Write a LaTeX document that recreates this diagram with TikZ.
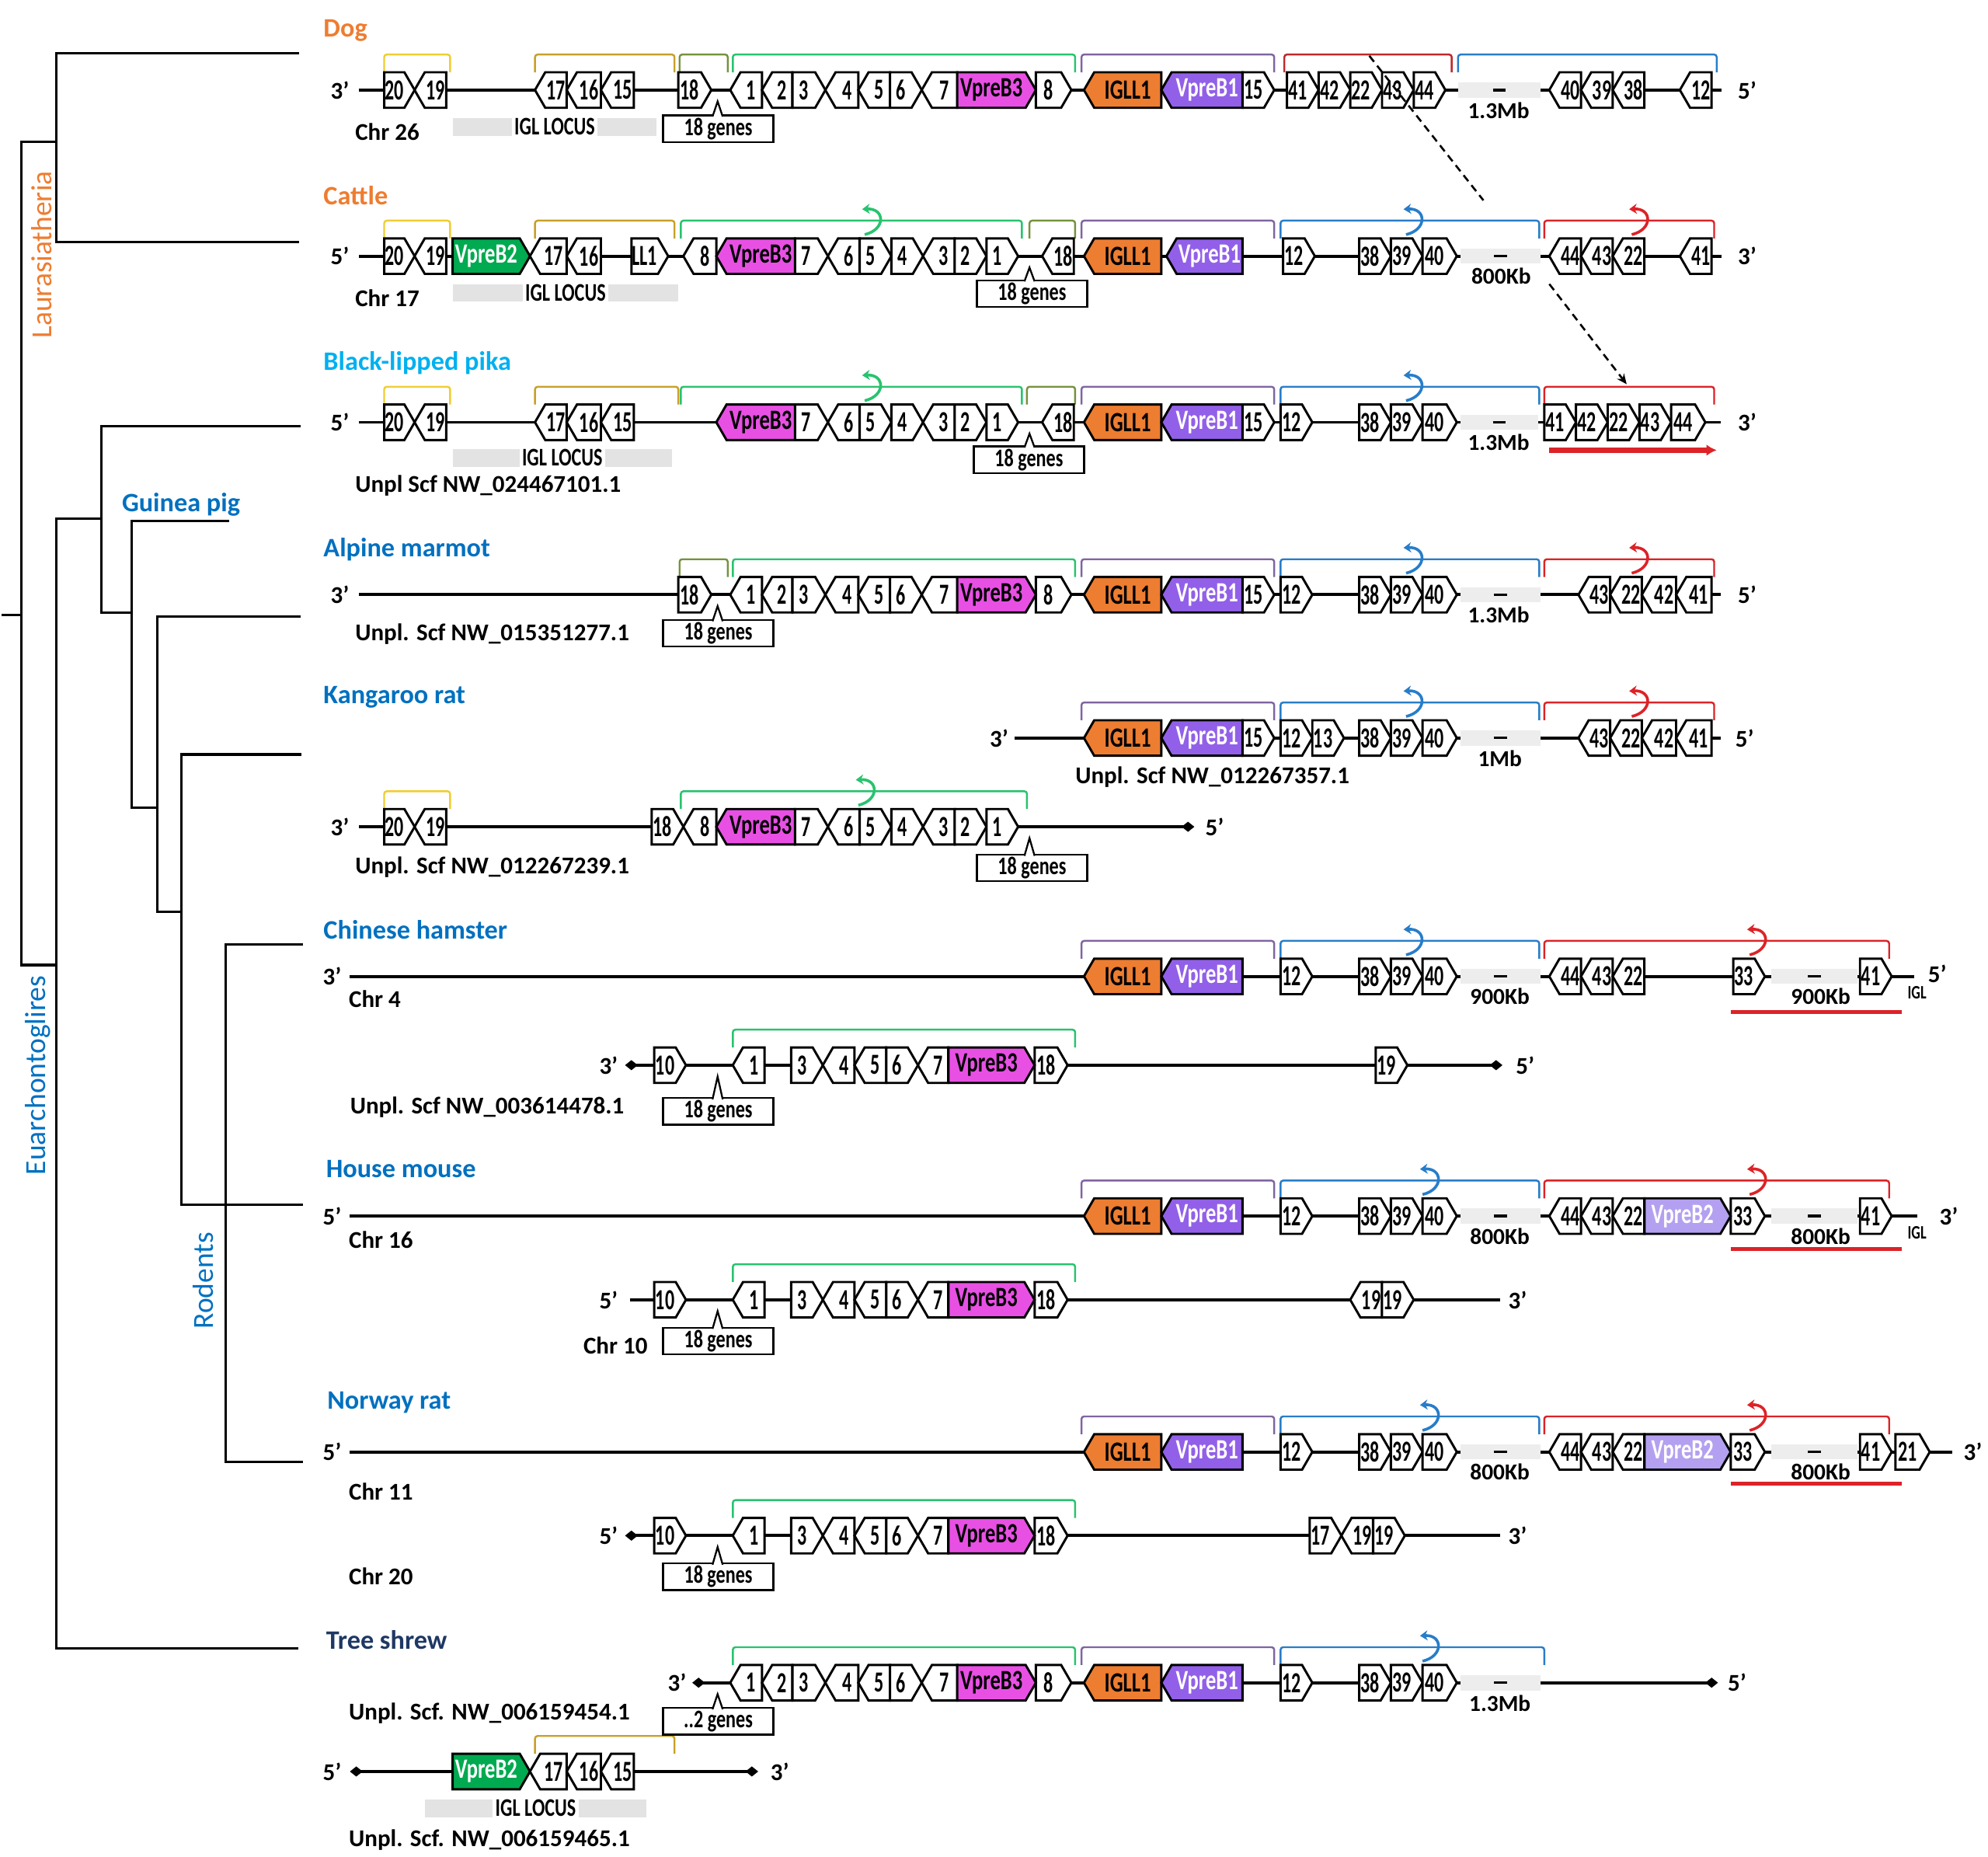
\documentclass[tikz,border=0pt]{standalone}
\usepackage{fontspec}
\setmainfont{Carlito}
\newfontfamily\cfont[FakeStretch=0.74]{Carlito}
\newfontfamily\nfont[FakeStretch=0.64]{Carlito}
\usetikzlibrary{shapes.symbols,arrows.meta}
\definecolor{cYel}{RGB}{240,205,50}
\definecolor{cGold}{RGB}{200,160,40}
\definecolor{cOlive}{RGB}{118,146,60}
\definecolor{cGrn}{RGB}{40,195,110}
\definecolor{cPur}{RGB}{128,100,162}
\definecolor{cRed}{RGB}{220,35,40}
\definecolor{cDRed}{RGB}{190,40,40}
\definecolor{cBlu}{RGB}{40,125,200}
\definecolor{cIGLL}{RGB}{237,125,49}
\definecolor{cVBone}{RGB}{146,96,232}
\definecolor{cVBthree}{RGB}{232,80,228}
\definecolor{cVBtwoG}{RGB}{0,170,80}
\definecolor{cVBtwoP}{RGB}{180,160,240}
\definecolor{cOrg}{RGB}{237,125,49}
\definecolor{cCyan}{RGB}{0,176,240}
\definecolor{cBlue}{RGB}{0,112,192}
\definecolor{cNavy}{RGB}{31,56,100}
\tikzset{
  gene/.style={shape=signal, signal to=#1, signal pointer angle=120, draw=black,
    line width=1.8pt, fill=white, minimum height=28pt, inner sep=0pt, outer sep=0pt,
    font=\nfont\fontsize{23}{23}\selectfont\bfseries},
  big/.style={font=\cfont\fontsize{22}{22}\selectfont\bfseries},
  igll/.style={big, fill=cIGLL},
  vbone/.style={big, fill=cVBone, text=white},
  vbthree/.style={big, fill=cVBthree},
  vbtwog/.style={big, fill=cVBtwoG, text=white},
  vbtwop/.style={big, fill=cVBtwoP, text=white},
  chrom/.style={line width=2.4pt},
  brk/.style={line width=1.5pt, rounded corners=2pt},
  tree/.style={line width=2pt, line cap=rect},
  species/.style={anchor=west, inner sep=0pt, font=\fontsize{21}{21}\selectfont\bfseries},
  chrlab/.style={anchor=west, inner sep=0pt, font=\fontsize{19}{19}\selectfont\bfseries},
  prime/.style={inner sep=0pt, font=\fontsize{19}{19}\selectfont\bfseries},
  glab/.style={inner sep=0pt, font=\fontsize{18}{18}\selectfont\bfseries},
  cbox/.style={draw, line width=1.4pt, fill=white, minimum width=87pt, minimum height=21pt,
    inner sep=0pt, font=\cfont\fontsize{20}{20}\selectfont\bfseries},
  loclab/.style={fill=white, inner sep=2pt, font=\cfont\fontsize{20}{20}\selectfont\bfseries},
  clade/.style={rotate=90, inner sep=0pt, font=\fontsize{23}{23}\selectfont},
}
\newcommand\sg[7]{\ifnum#4>0
  \node[gene=east,#5,minimum width=#3 pt] (#1) at ({#2+#3/2-4},#7) {#6};%
  \else
  \node[gene=west,#5,minimum width=#3 pt] (#1) at ({#2+#3/2+4},#7) {#6};%
  \fi}
\newcommand\genes[3]{\foreach \xa/\w/\d/\t [count=\k] in {#3}{\sg{#1-\k}{\xa}{\w}{\d}{}{\t}{#2}}}
\newcommand\brk[4]{\draw[brk,#1] (#2,#4-14) -- (#2,#4-28) -- (#3,#4-28) -- (#3,#4-14);}
\newcommand\curl[3]{\draw[#1,line width=2.2pt,-{Stealth[length=6pt,width=8pt]}] (#2-3,#3-17) .. controls (#2+14,#3-21) and (#2+13,#3-38) .. (#2-5,#3-37);}
\newcommand\callout[6]{\node[cbox] (#1) at (#2,#3) {#6};
  \filldraw[fill=white,line width=1.4pt] (#4-4,#3-9.6) -- (#4,#5) -- (#4+4,#3-9.6);}
\newcommand\gap[6]{\fill[gray!14] (#2,#4-6) rectangle (#3,#4+6);
  \draw[line width=2pt] ({(#2+#3)/2-5},#4) -- ({(#2+#3)/2+5},#4);
  \node[glab] (#1) at (#6,#4+16) {#5};}
\newcommand\locus[4]{\fill[gray!22] (#2,#4-7) rectangle (#3,#4+7);
  \node[loclab] (#1) at ({(#2+#3)/2},#4) {IGL LOCUS};}
\begin{document}
\begin{tikzpicture}[x=1pt,y=-1pt]
\useasboundingbox (0,0) rectangle (1568,1464);
% ---------------- tree ----------------
\draw[tree] (2,485) -- (17,485);
\draw[tree] (44.5,112) -- (17,112) -- (17,761) -- (44.5,761);
\draw[tree] (235,42) -- (44.5,42) -- (44.5,191) -- (235,191);
\draw[tree] (80,409) -- (44.5,409) -- (44.5,1300) -- (234,1300);
\draw[tree] (236,336) -- (80,336) -- (80,483) -- (104,483);
\draw[tree] (180,411) -- (104,411) -- (104,637) -- (124,637);
\draw[tree] (236,486) -- (124,486) -- (124,719) -- (143,719);
\draw[tree] (237,595) -- (143,595) -- (143,950) -- (238,950);
\draw[tree] (238,745) -- (178,745) -- (178,1153) -- (238,1153);
\node[clade, text=cOrg] (lau) at (33,201) {Laurasiatheria};
\node[clade, text=cBlue] (eua) at (30,848) {Euarchontoglires};
\node[clade, text=cBlue] (rod) at (160,1010) {Rodents};
\node[species, text=cBlue] (gp) at (96,398) {Guinea pig};
% ---------------- DOG ----------------
\node[species, text=cOrg] (dog-n) at (255,24) {Dog};
\node[prime] (dog-l) at (268,71) {3'};
\node[prime] (dog-r) at (1378,71) {5'};
\coordinate (dog-a) at (283,71); \coordinate (dog-b) at (1358,71);
\draw[chrom] (dog-a) -- (dog-b);
\gap{dog-gap}{1150}{1215}{71}{1.3Mb}{1182}
\brk{cYel}{303}{355}{71} \brk{cGold}{422}{532}{71} \brk{cOlive}{536}{574}{71}
\brk{cGrn}{578}{848}{71} \brk{cPur}{853}{1005}{71} \brk{cDRed}{1013}{1145}{71} \brk{cBlu}{1150}{1354}{71}
\genes{dog}{71}{303/24/1/20, 327/25/-1/19, 422/25/-1/17, 447/27/-1/16, 474/26/-1/15, 535/26/1/18,
 576/25/-1/1, 601/24/-1/2, 625/26/1/3, 651/26/-1/4, 677/25/-1/5, 702/25/1/6, 727/28/-1/7, 817/28/1/8,
 980/25/1/15, 1015/25/1/41, 1040/25/1/42, 1065/25/1/22, 1090/25/1/43, 1115/25/1/44,
 1222/25/-1/40, 1247/25/-1/39, 1272/25/-1/38, 1325/25/-1/12}
\sg{dog-vb3}{755}{62}{1}{vbthree}{VpreB3}{71}
\sg{dog-ig}{855}{61}{-1}{igll}{IGLL1}{71}
\sg{dog-vb1}{916}{64}{-1}{vbone}{VpreB1}{71}
\callout{dog-c}{566.5}{101.5}{566}{80}{18 genes}
\locus{dog-igl}{357}{518}{100}
\node[chrlab] (dog-chr) at (280,104) {Chr 26};
% ---------------- CATTLE ----------------
\node[species, text=cOrg] (cat-n) at (255,154) {Cattle};
\node[prime] (cat-l) at (268,202) {5'};
\node[prime] (cat-r) at (1378,202) {3'};
\coordinate (cat-a) at (283,202); \coordinate (cat-b) at (1358,202);
\draw[chrom] (cat-a) -- (cat-b);
\gap{cat-gap}{1152}{1215}{202}{800Kb}{1184}
\brk{cYel}{303}{355}{202} \brk{cGold}{422}{532}{202} \brk{cGrn}{537}{806}{202} \brk{cOlive}{812}{848}{202}
\brk{cPur}{853}{1005}{202} \brk{cBlu}{1010}{1214}{202} \brk{cRed}{1218}{1352}{202}
\curl{cGrn}{685}{202} \curl{cBlu}{1112}{202} \curl{cRed}{1290}{202}
\genes{cat}{202}{303/24/1/20, 327/25/-1/19, 418/29/-1/17, 447/27/-1/16, 498/29/1/LL1, 539/26/-1/8,
 627/26/1/7, 653/25/-1/6, 678/25/1/5, 703/25/1/4, 728/25/-1/3, 753/25/1/2, 778/25/1/1, 822/25/-1/18,
 1012/25/1/12, 1072/25/1/38, 1097/25/1/39, 1122/27/1/40, 1222/25/-1/44, 1247/25/-1/43, 1272/25/-1/22, 1325/25/-1/41}
\sg{cat-vb2}{357}{61}{1}{vbtwog}{VpreB2}{202}
\sg{cat-vb3}{565}{62}{-1}{vbthree}{VpreB3}{202}
\sg{cat-ig}{855}{61}{-1}{igll}{IGLL1}{202}
\sg{cat-vb1}{920}{60}{-1}{vbone}{VpreB1}{202}
\callout{cat-c}{814}{231.5}{812}{211}{18 genes}
\locus{cat-igl}{357}{535}{231}
\node[chrlab] (cat-chr) at (280,235) {Chr 17};
% ---------------- PIKA ----------------
\node[species, text=cCyan] (pik-n) at (255,286) {Black-lipped pika};
\node[prime] (pik-l) at (268,333) {5'};
\node[prime] (pik-r) at (1378,333) {3'};
\coordinate (pik-a) at (283,333); \coordinate (pik-b) at (1357,333);
\draw[chrom] (pik-a) -- (pik-b);
\gap{pik-gap}{1152}{1213}{333}{1.3Mb}{1182}
\brk{cYel}{303}{355}{333} \brk{cGold}{422}{535}{333} \brk{cGrn}{537}{806}{333} \brk{cOlive}{810}{848}{333}
\brk{cPur}{853}{1005}{333} \brk{cBlu}{1010}{1214}{333} \brk{cRed}{1218}{1352}{333}
\curl{cGrn}{685}{333} \curl{cBlu}{1112}{333}
\genes{pik}{333}{303/24/1/20, 327/25/-1/19, 422/25/-1/17, 447/27/-1/16, 474/26/-1/15,
 627/26/1/7, 653/25/-1/6, 678/25/1/5, 703/25/1/4, 728/25/-1/3, 753/25/1/2, 778/25/1/1, 822/25/-1/18,
 980/25/1/15, 1010/25/1/12, 1072/25/1/38, 1097/25/1/39, 1122/27/1/40,
 1218/25/1/41, 1243/25/1/42, 1268/25/1/22, 1293/25/1/43, 1318/27/1/44}
\sg{pik-vb3}{565}{62}{-1}{vbthree}{VpreB3}{333}
\sg{pik-ig}{855}{61}{-1}{igll}{IGLL1}{333}
\sg{pik-vb1}{916}{64}{-1}{vbone}{VpreB1}{333}
\callout{pik-c}{811.5}{362.5}{812}{342}{18 genes}
\locus{pik-igl}{357}{530}{361}
\node[chrlab] (pik-chr) at (280,383) {Unpl Scf NW\_024467101.1};
\coordinate (pik-ra) at (1222,355); \coordinate (pik-rb) at (1354,355);
\draw[cRed, line width=4pt, -{Latex[length=8pt,width=9pt]}] (pik-ra) -- (pik-rb);
% ---------------- MARMOT ----------------
\node[species, text=cBlue] (mar-n) at (255,433) {Alpine marmot};
\node[prime] (mar-l) at (268,469) {3'};
\node[prime] (mar-r) at (1378,469) {5'};
\coordinate (mar-a) at (283,469); \coordinate (mar-b) at (1357,469);
\draw[chrom] (mar-a) -- (mar-b);
\gap{mar-gap}{1152}{1215}{469}{1.3Mb}{1182}
\brk{cOlive}{536}{574}{469} \brk{cGrn}{578}{848}{469} \brk{cPur}{853}{1005}{469}
\brk{cBlu}{1010}{1214}{469} \brk{cRed}{1218}{1352}{469}
\curl{cBlu}{1112}{469} \curl{cRed}{1290}{469}
\genes{mar}{469}{535/26/1/18, 576/25/-1/1, 601/24/-1/2, 625/26/1/3, 651/26/-1/4, 677/25/-1/5, 702/25/1/6,
 727/28/-1/7, 817/28/1/8, 980/25/1/15, 1010/25/1/12, 1072/25/1/38, 1097/25/1/39, 1122/27/1/40,
 1245/25/-1/43, 1270/25/-1/22, 1295/27/-1/42, 1322/28/-1/41}
\sg{mar-vb3}{755}{62}{1}{vbthree}{VpreB3}{469}
\sg{mar-ig}{855}{61}{-1}{igll}{IGLL1}{469}
\sg{mar-vb1}{916}{64}{-1}{vbone}{VpreB1}{469}
\callout{mar-c}{566.5}{499.5}{566}{478}{18 genes}
\node[chrlab] (mar-chr) at (280,500) {Unpl. Scf NW\_015351277.1};
% ---------------- KANGAROO RAT ----------------
\node[species, text=cBlue] (kan-n) at (255,550) {Kangaroo rat};
\node[prime] (kan-l) at (788,582) {3'};
\node[prime] (kan-r) at (1376,582) {5'};
\coordinate (kan-a) at (800,582); \coordinate (kan-b) at (1357,582);
\draw[chrom] (kan-a) -- (kan-b);
\gap{kan-gap}{1152}{1215}{582}{1Mb}{1183}
\brk{cPur}{853}{1005}{582} \brk{cBlu}{1010}{1214}{582} \brk{cRed}{1218}{1352}{582}
\curl{cBlu}{1112}{582} \curl{cRed}{1290}{582}
\genes{kan}{582}{980/25/1/15, 1010/25/1/12, 1035/25/1/13, 1072/25/1/38, 1097/25/1/39, 1122/27/1/40,
 1245/25/-1/43, 1270/25/-1/22, 1295/27/-1/42, 1322/28/-1/41}
\sg{kan-ig}{855}{61}{-1}{igll}{IGLL1}{582}
\sg{kan-vb1}{916}{64}{-1}{vbone}{VpreB1}{582}
\node[chrlab] (kan-chr) at (848,613) {Unpl. Scf NW\_012267357.1};
% row 2
\node[prime] (kbn-l) at (268,652) {3'};
\node[prime] (kbn-r) at (958,652) {5'};
\coordinate (kbn-a) at (283,652); \coordinate (kbn-b) at (942,652);
\draw[chrom, -{Diamond[length=10pt,width=8pt]}] (kbn-a) -- (kbn-b);
\brk{cYel}{303}{355}{652} \brk{cGrn}{537}{810}{652}
\curl{cGrn}{680}{652}
\genes{kbn}{652}{303/24/1/20, 327/25/-1/19, 514/25/1/18, 539/26/-1/8,
 627/26/1/7, 653/25/-1/6, 678/25/1/5, 703/25/1/4, 728/25/-1/3, 753/25/1/2, 778/25/1/1}
\sg{kbn-vb3}{565}{62}{-1}{vbthree}{VpreB3}{652}
\callout{kbn-c}{814}{684.5}{812}{661}{18 genes}
\node[chrlab] (kbn-chr) at (280,684) {Unpl. Scf NW\_012267239.1};
% ---------------- CHINESE HAMSTER ----------------
\node[species, text=cBlue] (ham-n) at (255,733) {Chinese hamster};
\node[prime] (ham-l) at (262,770) {3'};
\node[prime] (ham-r) at (1528,768) {5'};
\node[inner sep=0pt, font=\cfont\fontsize{15}{15}\selectfont\bfseries] (ham-igl) at (1512,783) {IGL};
\coordinate (ham-a) at (276,770); \coordinate (ham-b) at (1510,770);
\draw[chrom] (ham-a) -- (ham-b);
\gap{ham-gap}{1152}{1215}{770}{900Kb}{1183}
\gap{ham-gapb}{1397}{1465}{770}{900Kb}{1436}
\brk{cPur}{853}{1005}{770} \brk{cBlu}{1010}{1214}{770} \brk{cRed}{1218}{1490}{770}
\curl{cBlu}{1112}{770} \curl{cRed}{1383}{770}
\genes{ham}{770}{1010/25/1/12, 1072/25/1/38, 1097/25/1/39, 1122/27/1/40, 1222/25/-1/44, 1247/25/-1/43,
 1272/25/-1/22, 1367/25/1/33, 1467/25/1/41}
\sg{ham-ig}{855}{61}{-1}{igll}{IGLL1}{770}
\sg{ham-vb1}{916}{64}{-1}{vbone}{VpreB1}{770}
\coordinate (ham-ua) at (1365,798); \coordinate (ham-ub) at (1500,798);
\draw[cRed, line width=3pt] (ham-ua) -- (ham-ub);
\node[chrlab] (ham-chr) at (275,788) {Chr 4};
% row 2
\node[prime] (hbm-l) at (480,840) {3'};
\node[prime] (hbm-r) at (1203,840) {5'};
\coordinate (hbm-a) at (493,840); \coordinate (hbm-b) at (1185,840);
\draw[chrom, {Diamond[length=10pt,width=8pt]}-{Diamond[length=10pt,width=8pt]}] (hbm-a) -- (hbm-b);
\brk{cGrn}{578}{848}{840}
\genes{hbm}{840}{516/25/1/10, 578/25/-1/1, 624/25/1/3, 649/25/-1/4, 674/25/-1/5, 699/25/1/6,
 724/24/-1/7, 816/26/1/18, 1085/25/1/19}
\sg{hbm-vb3}{748}{68}{1}{vbthree}{VpreB3}{840}
\callout{hbm-c}{566.5}{876.5}{566}{849}{18 genes}
\node[chrlab] (hbm-chr) at (276,873) {Unpl. Scf NW\_003614478.1};
% ---------------- HOUSE MOUSE ----------------
\node[species, text=cBlue] (mou-n) at (257,922) {House mouse};
\node[prime] (mou-l) at (262,959) {5'};
\node[prime] (mou-r) at (1537,959) {3'};
\node[inner sep=0pt, font=\cfont\fontsize{15}{15}\selectfont\bfseries] (mou-igl) at (1512,972) {IGL};
\coordinate (mou-a) at (276,959); \coordinate (mou-b) at (1512,959);
\draw[chrom] (mou-a) -- (mou-b);
\gap{mou-gap}{1152}{1215}{959}{800Kb}{1183}
\gap{mou-gapb}{1397}{1465}{959}{800Kb}{1436}
\brk{cPur}{853}{1005}{959} \brk{cBlu}{1010}{1214}{959} \brk{cRed}{1218}{1490}{959}
\curl{cBlu}{1125}{959} \curl{cRed}{1383}{959}
\genes{mou}{959}{1010/25/1/12, 1072/25/1/38, 1097/25/1/39, 1122/27/1/40, 1222/25/-1/44, 1247/25/-1/43,
 1272/25/-1/22, 1365/27/1/33, 1467/25/1/41}
\sg{mou-ig}{855}{61}{-1}{igll}{IGLL1}{959}
\sg{mou-vb1}{916}{64}{-1}{vbone}{VpreB1}{959}
\sg{mou-vb2}{1297}{68}{1}{vbtwop}{VpreB2}{959}
\coordinate (mou-ua) at (1365,985); \coordinate (mou-ub) at (1500,985);
\draw[cRed, line width=3pt] (mou-ua) -- (mou-ub);
\node[chrlab] (mou-chr) at (275,978) {Chr 16};
% row 2
\node[prime] (mbu-l) at (480,1025) {5'};
\node[prime] (mbu-r) at (1197,1025) {3'};
\coordinate (mbu-a) at (497,1025); \coordinate (mbu-b) at (1183,1025);
\draw[chrom] (mbu-a) -- (mbu-b);
\brk{cGrn}{578}{848}{1025}
\genes{mbu}{1025}{516/25/1/10, 578/25/-1/1, 624/25/1/3, 649/25/-1/4, 674/25/-1/5, 699/25/1/6,
 724/24/-1/7, 816/26/1/18, 1065/25/-1/19, 1090/25/1/19}
\sg{mbu-vb3}{748}{68}{1}{vbthree}{VpreB3}{1025}
\callout{mbu-c}{566.5}{1057.5}{566}{1034}{18 genes}
\node[chrlab] (mbu-chr) at (460,1061) {Chr 10};
% ---------------- NORWAY RAT ----------------
\node[species, text=cBlue] (rat-n) at (258,1106) {Norway rat};
\node[prime] (rat-l) at (262,1145) {5'};
\node[prime] (rat-r) at (1556,1145) {3'};
\coordinate (rat-a) at (276,1145); \coordinate (rat-b) at (1540,1145);
\draw[chrom] (rat-a) -- (rat-b);
\gap{rat-gap}{1152}{1215}{1145}{800Kb}{1183}
\gap{rat-gapb}{1397}{1465}{1145}{800Kb}{1436}
\brk{cPur}{853}{1005}{1145} \brk{cBlu}{1010}{1214}{1145} \brk{cRed}{1218}{1490}{1145}
\curl{cBlu}{1125}{1145} \curl{cRed}{1383}{1145}
\genes{rat}{1145}{1010/25/1/12, 1072/25/1/38, 1097/25/1/39, 1122/27/1/40, 1222/25/-1/44, 1247/25/-1/43,
 1272/25/-1/22, 1365/27/1/33, 1467/25/1/41, 1495/27/1/21}
\sg{rat-ig}{855}{61}{-1}{igll}{IGLL1}{1145}
\sg{rat-vb1}{916}{64}{-1}{vbone}{VpreB1}{1145}
\sg{rat-vb2}{1297}{68}{1}{vbtwop}{VpreB2}{1145}
\coordinate (rat-ua) at (1365,1170); \coordinate (rat-ub) at (1500,1170);
\draw[cRed, line width=3pt] (rat-ua) -- (rat-ub);
\node[chrlab] (rat-chr) at (275,1176) {Chr 11};
% row 2
\node[prime] (rbt-l) at (480,1211) {5'};
\node[prime] (rbt-r) at (1197,1211) {3'};
\coordinate (rbt-a) at (493,1211); \coordinate (rbt-b) at (1183,1211);
\draw[chrom, {Diamond[length=10pt,width=8pt]}-] (rbt-a) -- (rbt-b);
\brk{cGrn}{578}{848}{1211}
\genes{rbt}{1211}{516/25/1/10, 578/25/-1/1, 624/25/1/3, 649/25/-1/4, 674/25/-1/5, 699/25/1/6,
 724/24/-1/7, 816/26/1/18, 1033/25/1/17, 1058/25/-1/19, 1083/25/1/19}
\sg{rbt-vb3}{748}{68}{1}{vbthree}{VpreB3}{1211}
\callout{rbt-c}{566.5}{1243.5}{566}{1220}{18 genes}
\node[chrlab] (rbt-chr) at (275,1243) {Chr 20};
% ---------------- TREE SHREW ----------------
\node[species, text=cNavy] (tre-n) at (257,1293) {Tree shrew};
\node[prime] (tre-l) at (534,1327) {3'};
\node[prime] (tre-r) at (1370,1327) {5'};
\coordinate (tre-a) at (546,1327); \coordinate (tre-b) at (1355,1327);
\draw[chrom, {Diamond[length=10pt,width=8pt]}-{Diamond[length=10pt,width=8pt]}] (tre-a) -- (tre-b);
\gap{tre-gap}{1152}{1215}{1327}{1.3Mb}{1183}
\brk{cGrn}{578}{848}{1327} \brk{cPur}{853}{1005}{1327} \brk{cBlu}{1010}{1218}{1327}
\curl{cBlu}{1125}{1327}
\genes{tre}{1327}{576/25/-1/1, 601/24/-1/2, 625/26/1/3, 651/26/-1/4, 677/25/-1/5, 702/25/1/6,
 727/28/-1/7, 817/28/1/8, 1010/25/1/12, 1072/25/1/38, 1097/25/1/39, 1122/27/1/40}
\sg{tre-vb3}{755}{62}{1}{vbthree}{VpreB3}{1327}
\sg{tre-ig}{855}{61}{-1}{igll}{IGLL1}{1327}
\sg{tre-vb1}{916}{64}{-1}{vbone}{VpreB1}{1327}
\node[chrlab] (tre-chr) at (275,1351) {Unpl. Scf. NW\_006159454.1};
% row 2
\node[prime] (trb-l) at (262,1397) {5'};
\node[prime] (trb-r) at (615,1397) {3'};
\coordinate (trb-a) at (276,1397); \coordinate (trb-b) at (598,1397);
\draw[chrom, {Diamond[length=10pt,width=8pt]}-{Diamond[length=10pt,width=8pt]}] (trb-a) -- (trb-b);
\brk{cGold}{422}{532}{1397}
\genes{trb}{1397}{418/29/-1/17, 447/27/-1/16, 474/26/-1/15}
\sg{trb-vb2}{357}{61}{1}{vbtwog}{VpreB2}{1397}
\callout{tre-c}{566.5}{1357.5}{566}{1336}{..2 genes}
\locus{trb-igl}{335}{510}{1426}
\node[chrlab] (trb-chr) at (275,1451) {Unpl. Scf. NW\_006159465.1};
% ---------------- dashed arrow ----------------
\coordinate (dA) at (1080,44); \coordinate (dB) at (1170,158);
\coordinate (dC) at (1222,224); \coordinate (dD) at (1283,303);
\draw[line width=1.6pt, dash pattern=on 6pt off 4pt] (dA) -- (dB);
\draw[line width=1.6pt, dash pattern=on 6pt off 4pt, -{Stealth[length=8pt,width=7pt]}] (dC) -- (dD);
\end{tikzpicture}
\end{document}
